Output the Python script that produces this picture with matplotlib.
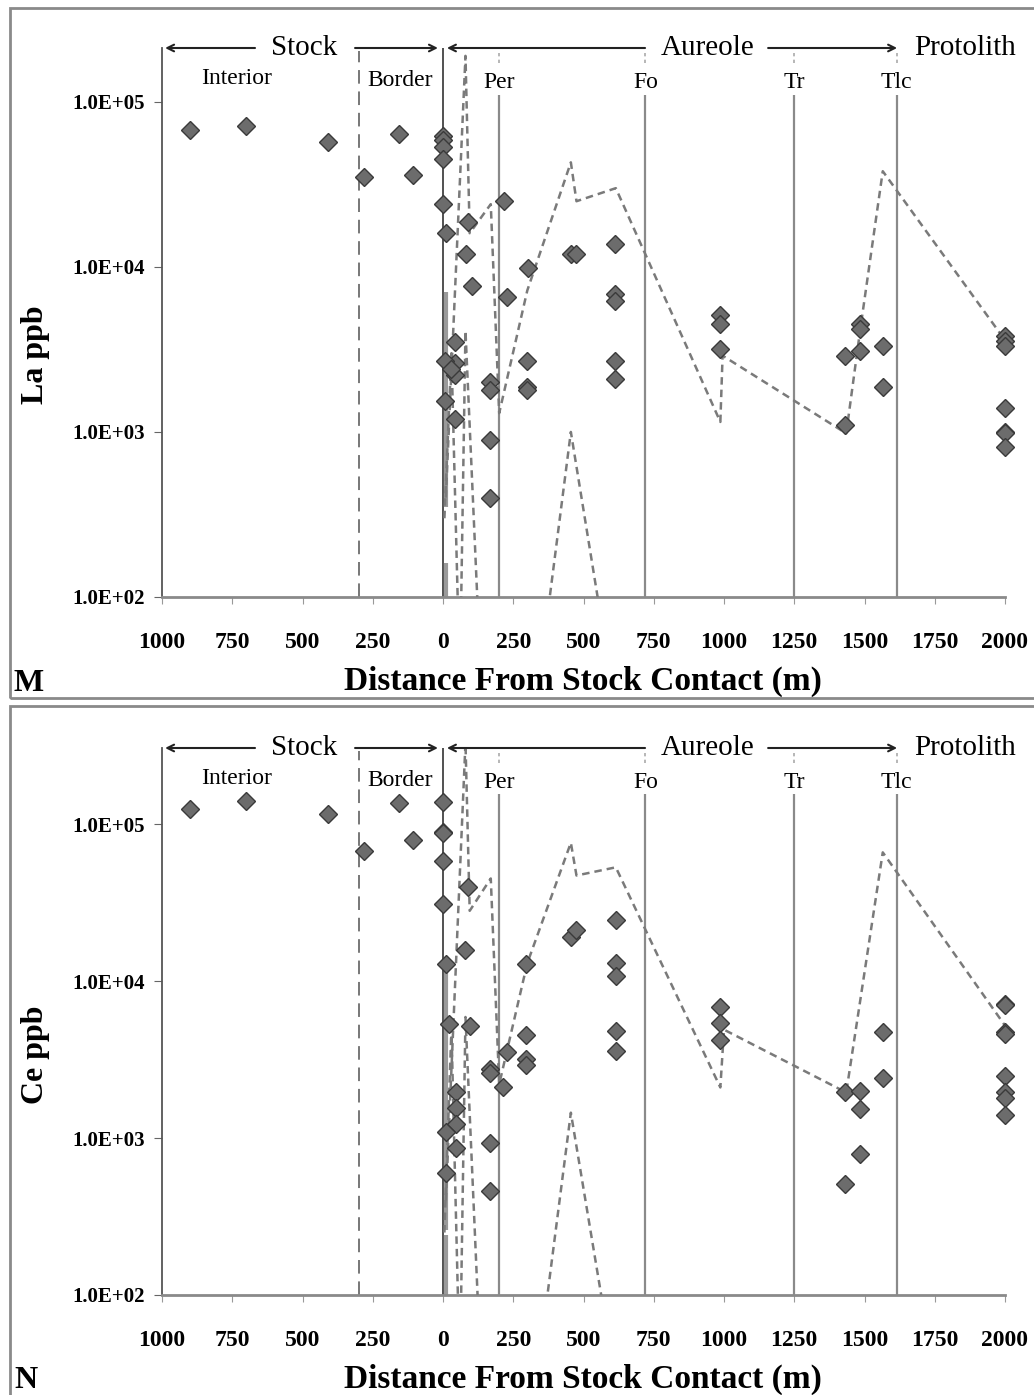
import matplotlib
matplotlib.use("Agg")
import matplotlib.pyplot as plt
import matplotlib.transforms as mtransforms
from matplotlib.patches import Rectangle
from matplotlib.ticker import NullLocator

plt.rcParams['font.family'] = ['Liberation Serif', 'DejaVu Serif']

# ---------------- data ----------------
x_ticks = [-1000, -750, -500, -250, 0, 250, 500, 750, 1000, 1250, 1500, 1750, 2000]
x_tick_labels = ['1000', '750', '500', '250', '0', '250', '500', '750',
                 '1000', '1250', '1500', '1750', '2000']
y_ticks = [1e2, 1e3, 1e4, 1e5]
y_tick_labels = ['1.0E+02', '1.0E+03', '1.0E+04', '1.0E+05']

border_x = -300
contact_x = 0
isograd_x = [200, 720, 1250, 1615]
isograd_names = ['Per', 'Fo', 'Tr', 'Tlc']

# La (panel M)
la_x = [-900, -700, -410, -280, -155, -105,
        0, 0, 0, 0, 0, 10,
        90, 82, 103, 217, 302, 228,
        43, 43, 43, 43, 7, 7, 30,
        167, 167, 167, 167,
        298, 298, 298,
        455, 473,
        612, 612, 612, 612, 612,
        987, 987, 987,
        1431, 1431,
        1485, 1485, 1485,
        1566, 1566,
        2000, 2000, 2000, 2000, 2000, 2000, 2000]
la_y = [6.8e4, 7.1e4, 5.7e4, 3.5e4, 6.4e4, 3.6e4,
        6.2e4, 5.9e4, 5.3e4, 4.5e4, 2.4e4, 1.6e4,
        1.86e4, 1.2e4, 7.7e3, 2.5e4, 9.8e3, 6.6e3,
        3.5e3, 2.6e3, 2.2e3, 1.2e3, 2.7e3, 1.55e3, 2.4e3,
        2.0e3, 1.8e3, 8.9e2, 4.0e2,
        2.7e3, 1.86e3, 1.8e3,
        1.2e4, 1.2e4,
        1.38e4, 6.9e3, 6.2e3, 2.7e3, 2.1e3,
        5.1e3, 4.5e3, 3.2e3,
        2.9e3, 1.1e3,
        4.5e3, 4.2e3, 3.1e3,
        3.3e3, 1.86e3,
        3.8e3, 3.55e3, 3.3e3, 1.4e3, 1.0e3, 9.8e2, 8.1e2]

la_upper_x = [10, 80, 95, 170, 200, 300, 455, 475, 615, 987, 995, 1435, 1485, 1565, 2000]
la_upper_y = [4e2, 1.9e5, 1.6e4, 2.4e4, 1.3e3, 7.2e3, 4.3e4, 2.5e4, 3.0e4, 1.15e3, 2.9e3,
              9.8e2, 4.2e3, 3.8e4, 3.6e3]
la_lower_x = [5, 30, 60, 80, 140, 350, 455, 600]
la_lower_y = [3e2, 3e3, 3e1, 4.1e3, 2e1, 4e1, 1e3, 3e1]
la_bar_x = [10, 10]
la_bar_lo = [3.5e2, 1e2]
la_bar_hi = [7e3, 1.6e2]

# Ce (panel N)
ce_x = [-900, -700, -410, -280, -155, -105,
        0, 0, 0, 0, 0, 10,
        89, 80, 22, 96,
        295, 455, 473,
        616, 616, 616, 616, 616,
        295, 295, 295, 228, 213,
        167, 167, 167, 167,
        46, 46, 46, 46, 10, 10,
        987, 987, 987,
        1431, 1431,
        1485, 1485, 1485,
        1566, 1566,
        2000, 2000, 2000, 2000, 2000, 2000, 2000, 2000]
ce_y = [1.25e5, 1.4e5, 1.16e5, 6.7e4, 1.36e5, 7.9e4,
        1.38e5, 8.9e4, 8.8e4, 5.8e4, 3.1e4, 1.28e4,
        4.0e4, 1.58e4, 5.3e3, 5.2e3,
        1.28e4, 1.9e4, 2.1e4,
        2.45e4, 1.3e4, 1.07e4, 4.8e3, 3.6e3,
        4.5e3, 3.2e3, 2.9e3, 3.55e3, 2.1e3,
        2.75e3, 2.6e3, 9.3e2, 4.6e2,
        1.95e3, 1.55e3, 1.23e3, 8.7e2, 1.1e3, 6.0e2,
        6.8e3, 5.4e3, 4.2e3,
        1.96e3, 5.1e2,
        1.98e3, 1.53e3, 7.9e2,
        4.7e3, 2.4e3,
        7.1e3, 7.0e3, 4.7e3, 4.6e3, 2.5e3, 1.95e3, 1.8e3, 1.4e3]

ce_upper_x = [10, 80, 95, 170, 200, 300, 455, 475, 615, 987, 1000, 1435, 1565, 2000]
ce_upper_y = [4e2, 3.3e5, 2.8e4, 4.5e4, 2.2e3, 1.3e4, 7.6e4, 4.7e4, 5.3e4, 2.1e3, 4.9e3,
              1.95e3, 6.6e4, 5.2e3]
ce_lower_x = [5, 30, 60, 80, 140, 350, 455, 600]
ce_lower_y = [2.5e2, 5e3, 3e1, 5.9e3, 2e1, 5e1, 1.45e3, 4e1]
ce_bar_x = [10, 10]
ce_bar_lo = [2.6e2, 1e2]
ce_bar_hi = [1.2e4, 2.4e2]

# ---------------- figure ----------------
W, H = 1034, 1395
fig = plt.figure(figsize=(W / 100, H / 100), dpi=100)
fig.patch.set_facecolor('white')


def fx(px):
    return px / W


def fy(py):
    return 1 - py / H


# panel frames
for (y_top, y_bot) in [(8, 698), (706, 1396)]:
    fig.patches.append(Rectangle((fx(10), fy(y_bot)), 1.2, fy(y_top) - fy(y_bot),
                                 transform=fig.transFigure, fill=False,
                                 edgecolor='#8a8a8a', lw=2, zorder=0))

MARK_C = '#6c6c6c'
EDGE_C = '#3a3a3a'
DASH_C = '#7a7a7a'
GRID_C = '#8a8a8a'


def draw_panel(ax_rect, xs, ys, ux, uy, lx, ly, bx, blo, bhi, ylim_top, ylabel,
               ylabel_py, xlabel_py, letter, letter_py):
    ax = fig.add_axes(ax_rect)
    ax.set_xlim(-1000, 2000)
    ax.set_yscale('log')
    ax.set_ylim(1e2, ylim_top)
    for s in ['top', 'right']:
        ax.spines[s].set_visible(False)
    ax.spines['left'].set_color('#555555')
    ax.spines['left'].set_linewidth(1.3)
    ax.spines['bottom'].set_color('#8a8a8a')
    ax.spines['bottom'].set_linewidth(2)

    ax.set_yticks(y_ticks)
    ax.set_yticklabels(y_tick_labels, fontweight='bold', fontsize=15)
    ax.yaxis.set_minor_locator(NullLocator())
    ax.set_xticks(x_ticks)
    ax.set_xticklabels(x_tick_labels, fontweight='bold', fontsize=17)
    ax.tick_params(axis='y', direction='out', length=6, color='#666666', pad=6)
    ax.tick_params(axis='x', direction='out', length=5, color='#999999', pad=20)

    trans = mtransforms.blended_transform_factory(ax.transData, ax.transAxes)

    # zone lines
    ax.plot([border_x, border_x], [0, 0.995], transform=trans, color='#777777',
            lw=1.4, ls=(0, (7, 4)), zorder=2)
    ax.plot([contact_x, contact_x], [0, 1.0], transform=trans, color='#222222',
            lw=1.1, zorder=2)
    for xv in isograd_x:
        ax.plot([xv, xv], [0, 0.915], transform=trans, color=GRID_C, lw=1.6, zorder=2)
        ax.plot([xv, xv], [0.972, 0.995], transform=trans, color='#aaaaaa',
                lw=1.2, ls=(0, (2, 2)), zorder=2, clip_on=False)

    # gray bars near contact
    ax.vlines(bx, blo, bhi, colors='#9a9a9a', lw=3, zorder=2)

    # dashed envelope lines
    ax.plot(ux, uy, color=DASH_C, lw=1.8, ls=(0, (3, 2)), zorder=3)
    ax.plot(lx, ly, color=DASH_C, lw=1.8, ls=(0, (3, 2)), zorder=3)

    # samples
    ax.plot(xs, ys, ls='none', marker='D', ms=9.5, mfc=MARK_C, mec=EDGE_C,
            mew=1.0, zorder=4, clip_on=False)

    # header arrows and text
    aprops = dict(arrowstyle='->', color='#222222', lw=1.5, mutation_scale=12,
                  shrinkA=0, shrinkB=0)
    ax.annotate('', xy=(-989, 1.0), xytext=(-669, 1.0), xycoords=trans,
                textcoords=trans, arrowprops=aprops, annotation_clip=False)
    ax.annotate('', xy=(-18, 1.0), xytext=(-313, 1.0), xycoords=trans,
                textcoords=trans, arrowprops=aprops, annotation_clip=False)
    ax.annotate('', xy=(14, 1.0), xytext=(719, 1.0), xycoords=trans,
                textcoords=trans, arrowprops=aprops, annotation_clip=False)
    ax.annotate('', xy=(1616, 1.0), xytext=(1157, 1.0), xycoords=trans,
                textcoords=trans, arrowprops=aprops, annotation_clip=False)
    ax.text(-495, 1.0, 'Stock', transform=trans, ha='center', va='center',
            fontsize=21, clip_on=False)
    ax.text(940, 1.0, 'Aureole', transform=trans, ha='center', va='center',
            fontsize=21, clip_on=False)
    ax.text(1858, 1.0, 'Protolith', transform=trans, ha='center', va='center',
            fontsize=21, clip_on=False)

    ax.text(-733, 0.944, 'Interior', transform=trans, ha='center', va='center',
            fontsize=17)
    ax.text(-153, 0.940, 'Border', transform=trans, ha='center', va='center',
            fontsize=17)
    for xv, nm in zip(isograd_x, isograd_names):
        ax.text(xv, 0.937, nm, transform=trans, ha='center', va='center',
                fontsize=17, bbox=dict(facecolor='white', edgecolor='none', pad=1))

    fig.text(fx(36), fy(ylabel_py), ylabel, rotation=90, ha='center', va='center',
             fontsize=23, fontweight='bold')
    fig.text(fx(583), fy(xlabel_py), 'Distance From Stock Contact (m)', ha='center',
             va='center', fontsize=24, fontweight='bold')
    fig.text(fx(14), fy(letter_py), letter, ha='left', va='center', fontsize=23,
             fontweight='bold')
    return ax


draw_panel([fx(162), fy(597), fx(1005) - fx(162), fy(48) - fy(597)],
           la_x, la_y, la_upper_x, la_upper_y, la_lower_x, la_lower_y,
           la_bar_x, la_bar_lo, la_bar_hi, 2.12e5, 'La ppb', 355, 681, 'M', 684)
draw_panel([fx(162), fy(1295), fx(1005) - fx(162), fy(748) - fy(1295)],
           ce_x, ce_y, ce_upper_x, ce_upper_y, ce_lower_x, ce_lower_y,
           ce_bar_x, ce_bar_lo, ce_bar_hi, 3.05e5, 'Ce ppb', 1055, 1379, 'N', 1380)

fig.savefig('out.png', dpi=100)
